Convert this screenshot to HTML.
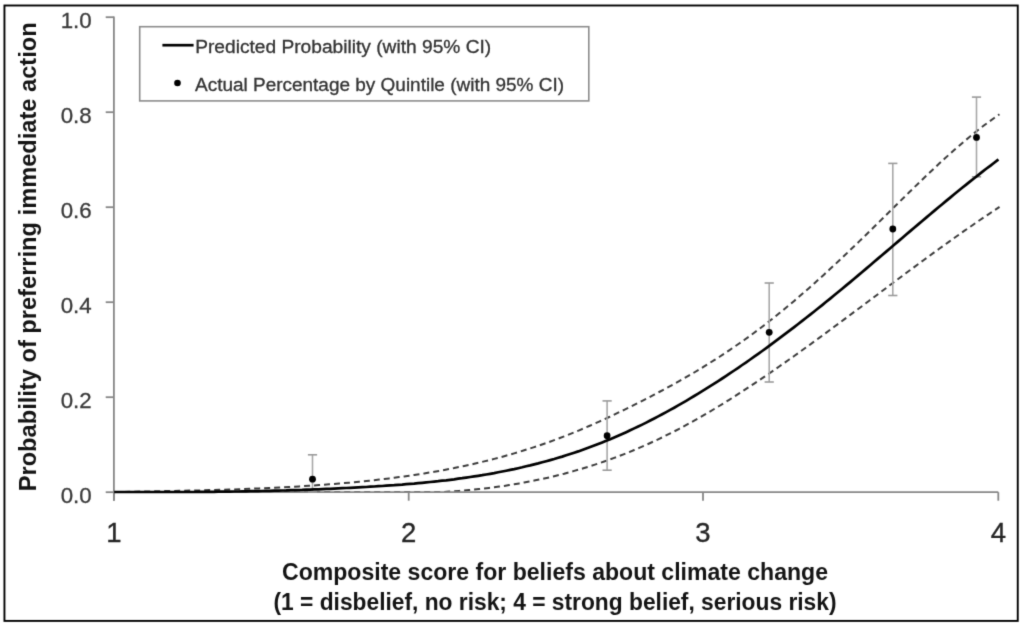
<!DOCTYPE html>
<html><head><meta charset="utf-8"><style>
html,body{margin:0;padding:0;background:#fff;width:1024px;height:627px;overflow:hidden}
svg{display:block;font-family:"Liberation Sans", sans-serif}
</style></head><body>
<svg width="1024" height="627" viewBox="0 0 1024 627">
<defs><filter id="b" x="0" y="0" width="1024" height="627" filterUnits="userSpaceOnUse" color-interpolation-filters="sRGB"><feConvolveMatrix order="3" kernelMatrix="1 6 1 6 36 6 1 6 1" divisor="64" edgeMode="duplicate"/></filter></defs>
<g filter="url(#b)">
<rect x="0" y="0" width="1024" height="627" fill="#fff"/>
<polyline points="114.2,492.0 119.2,492.0 124.2,491.9 129.2,491.8 134.2,491.7 139.2,491.6 144.2,491.5 149.2,491.4 154.2,491.3 159.2,491.2 164.2,491.1 169.2,491.0 174.2,490.9 179.2,490.8 184.2,490.7 189.2,490.6 194.2,490.5 199.2,490.4 204.2,490.3 209.2,490.1 214.2,490.0 219.2,489.8 224.2,489.7 229.2,489.5 234.2,489.4 239.2,489.2 244.2,489.0 249.2,488.8 254.2,488.6 259.2,488.4 264.2,488.2 269.2,488.0 274.2,487.7 279.2,487.5 284.2,487.2 289.2,487.0 294.2,486.7 299.2,486.4 304.2,486.1 309.2,485.7 314.2,485.4 319.2,485.1 324.2,484.7 329.2,484.3 334.2,483.9 339.2,483.5 344.2,483.1 349.2,482.7 354.2,482.2 359.2,481.7 364.2,481.2 369.2,480.7 374.2,480.2 379.2,479.6 384.2,479.0 389.2,478.4 394.2,477.8 399.2,477.1 404.2,476.5 409.2,475.8 414.2,475.0 419.2,474.3 424.2,473.5 429.2,472.6 434.2,471.8 439.2,470.9 444.2,470.0 449.2,469.0 454.2,468.1 459.2,467.0 464.2,466.0 469.2,464.9 474.2,463.8 479.2,462.6 484.2,461.4 489.2,460.2 494.2,458.9 499.2,457.6 504.2,456.2 509.2,454.8 514.2,453.4 519.2,451.9 524.2,450.3 529.2,448.7 534.2,447.1 539.2,445.4 544.2,443.7 549.2,442.0 554.2,440.1 559.2,438.3 564.2,436.4 569.2,434.4 574.2,432.4 579.2,430.3 584.2,428.2 589.2,426.0 594.2,423.8 599.2,421.6 604.2,419.3 609.2,417.0 614.2,414.6 619.2,412.2 624.2,409.8 629.2,407.4 634.2,404.9 639.2,402.4 644.2,399.8 649.2,397.3 654.2,394.7 659.2,392.0 664.2,389.4 669.2,386.7 674.2,383.9 679.2,381.1 684.2,378.3 689.2,375.4 694.2,372.5 699.2,369.5 704.2,366.4 709.2,363.3 714.2,360.2 719.2,357.0 724.2,353.7 729.2,350.3 734.2,346.9 739.2,343.5 744.2,340.0 749.2,336.4 754.2,332.7 759.2,329.0 764.2,325.2 769.2,321.3 774.2,317.3 779.2,313.3 784.2,309.2 789.2,305.1 794.2,300.9 799.2,296.6 804.2,292.3 809.2,287.9 814.2,283.4 819.2,278.9 824.2,274.4 829.2,269.8 834.2,265.2 839.2,260.5 844.2,255.8 849.2,251.0 854.2,246.2 859.2,241.4 864.2,236.6 869.2,231.7 874.2,226.8 879.2,221.9 884.2,216.9 889.2,212.0 894.2,207.0 899.2,202.1 904.2,197.2 909.2,192.3 914.2,187.4 919.2,182.6 924.2,177.7 929.2,173.0 934.2,168.3 939.2,163.6 944.2,159.0 949.2,154.5 954.2,150.0 959.2,145.7 964.2,141.4 969.2,137.2 974.2,133.1 979.2,129.2 984.2,125.3 989.2,121.6 994.2,118.0 999.2,114.5 999.5,114.3" fill="none" stroke="#3c3c3c" stroke-width="2" stroke-dasharray="6 4"/>
<polyline points="114.2,492.0 119.2,492.0 124.2,492.0 129.2,492.0 134.2,492.0 139.2,492.0 144.2,492.0 149.2,492.0 154.2,492.0 159.2,492.0 164.2,492.0 169.2,492.0 174.2,492.0 179.2,492.0 184.2,492.0 189.2,492.0 194.2,492.0 199.2,492.0 204.2,492.0 209.2,492.0 214.2,492.0 219.2,492.0 224.2,492.0 229.2,492.0 234.2,492.0 239.2,492.0 244.2,492.0 249.2,492.0 254.2,492.0 259.2,492.0 264.2,492.0 269.2,492.0 274.2,492.0 279.2,492.0 284.2,492.0 289.2,492.0 294.2,492.0 299.2,492.0 304.2,492.0 309.2,492.0 314.2,492.0 319.2,492.0 324.2,492.0 329.2,492.0 334.2,492.0 339.2,492.0 344.2,492.0 349.2,492.0 354.2,492.0 359.2,492.0 364.2,492.0 369.2,492.0 374.2,492.0 379.2,492.0 384.2,492.0 389.2,492.0 394.2,492.0 399.2,492.0 404.2,492.0 409.2,492.0 414.2,492.0 419.2,492.0 424.2,492.0 429.2,492.0 434.2,492.0 439.2,492.0 444.2,491.9 449.2,491.6 454.2,491.3 459.2,490.9 464.2,490.5 469.2,490.1 474.2,489.6 479.2,489.1 484.2,488.5 489.2,487.9 494.2,487.3 499.2,486.6 504.2,485.9 509.2,485.1 514.2,484.3 519.2,483.4 524.2,482.5 529.2,481.6 534.2,480.6 539.2,479.6 544.2,478.5 549.2,477.4 554.2,476.2 559.2,474.9 564.2,473.7 569.2,472.3 574.2,470.9 579.2,469.5 584.2,468.0 589.2,466.5 594.2,464.9 599.2,463.2 604.2,461.5 609.2,459.7 614.2,457.9 619.2,456.0 624.2,454.1 629.2,452.1 634.2,450.0 639.2,447.9 644.2,445.7 649.2,443.5 654.2,441.2 659.2,438.8 664.2,436.4 669.2,433.9 674.2,431.4 679.2,428.8 684.2,426.1 689.2,423.4 694.2,420.6 699.2,417.8 704.2,414.9 709.2,412.0 714.2,409.0 719.2,406.0 724.2,402.9 729.2,399.8 734.2,396.6 739.2,393.4 744.2,390.2 749.2,386.9 754.2,383.6 759.2,380.3 764.2,376.9 769.2,373.5 774.2,370.0 779.2,366.5 784.2,363.0 789.2,359.5 794.2,356.0 799.2,352.4 804.2,348.8 809.2,345.2 814.2,341.5 819.2,337.9 824.2,334.2 829.2,330.5 834.2,326.8 839.2,323.1 844.2,319.4 849.2,315.7 854.2,311.9 859.2,308.2 864.2,304.5 869.2,300.7 874.2,297.0 879.2,293.2 884.2,289.5 889.2,285.7 894.2,282.0 899.2,278.3 904.2,274.5 909.2,270.8 914.2,267.1 919.2,263.4 924.2,259.7 929.2,256.1 934.2,252.4 939.2,248.8 944.2,245.2 949.2,241.6 954.2,238.0 959.2,234.5 964.2,230.9 969.2,227.5 974.2,224.0 979.2,220.5 984.2,217.1 989.2,213.8 994.2,210.4 999.2,207.1 999.5,206.9" fill="none" stroke="#3c3c3c" stroke-width="2" stroke-dasharray="6 4"/>
<line x1="113.9" y1="16.4" x2="113.9" y2="500.7" stroke="#878787" stroke-width="1.8"/>
<line x1="113.9" y1="492.2" x2="998.3" y2="492.2" stroke="#878787" stroke-width="1.8"/>
<line x1="105.7" y1="17.2" x2="113.9" y2="17.2" stroke="#878787" stroke-width="1.8"/>
<line x1="105.7" y1="112.2" x2="113.9" y2="112.2" stroke="#878787" stroke-width="1.8"/>
<line x1="105.7" y1="207.2" x2="113.9" y2="207.2" stroke="#878787" stroke-width="1.8"/>
<line x1="105.7" y1="302.2" x2="113.9" y2="302.2" stroke="#878787" stroke-width="1.8"/>
<line x1="105.7" y1="397.2" x2="113.9" y2="397.2" stroke="#878787" stroke-width="1.8"/>
<line x1="105.7" y1="492.2" x2="113.9" y2="492.2" stroke="#878787" stroke-width="1.8"/>
<line x1="113.9" y1="492.2" x2="113.9" y2="500.7" stroke="#878787" stroke-width="1.8"/>
<line x1="408.7" y1="492.2" x2="408.7" y2="500.7" stroke="#878787" stroke-width="1.8"/>
<line x1="703.0" y1="492.2" x2="703.0" y2="500.7" stroke="#878787" stroke-width="1.8"/>
<line x1="998.3" y1="492.2" x2="998.3" y2="500.7" stroke="#878787" stroke-width="1.8"/>
<line x1="312.5" y1="454.8" x2="312.5" y2="492.0" stroke="#a8a8a8" stroke-width="1.6"/>
<line x1="307.9" y1="454.8" x2="317.1" y2="454.8" stroke="#9a9a9a" stroke-width="1.6"/>
<line x1="307.9" y1="492.0" x2="317.1" y2="492.0" stroke="#9a9a9a" stroke-width="1.6"/>
<line x1="607.1" y1="400.9" x2="607.1" y2="470.2" stroke="#a8a8a8" stroke-width="1.6"/>
<line x1="602.5" y1="400.9" x2="611.7" y2="400.9" stroke="#9a9a9a" stroke-width="1.6"/>
<line x1="602.5" y1="470.2" x2="611.7" y2="470.2" stroke="#9a9a9a" stroke-width="1.6"/>
<line x1="769.2" y1="283.0" x2="769.2" y2="382.0" stroke="#a8a8a8" stroke-width="1.6"/>
<line x1="764.6" y1="283.0" x2="773.8000000000001" y2="283.0" stroke="#9a9a9a" stroke-width="1.6"/>
<line x1="764.6" y1="382.0" x2="773.8000000000001" y2="382.0" stroke="#9a9a9a" stroke-width="1.6"/>
<line x1="892.8" y1="163.4" x2="892.8" y2="295.5" stroke="#a8a8a8" stroke-width="1.6"/>
<line x1="888.1999999999999" y1="163.4" x2="897.4" y2="163.4" stroke="#9a9a9a" stroke-width="1.6"/>
<line x1="888.1999999999999" y1="295.5" x2="897.4" y2="295.5" stroke="#9a9a9a" stroke-width="1.6"/>
<line x1="976.5" y1="97.1" x2="976.5" y2="176.8" stroke="#a8a8a8" stroke-width="1.6"/>
<line x1="971.9" y1="97.1" x2="981.1" y2="97.1" stroke="#9a9a9a" stroke-width="1.6"/>
<line x1="971.9" y1="176.8" x2="981.1" y2="176.8" stroke="#9a9a9a" stroke-width="1.6"/>
<polyline points="114.2,492.0 118.2,492.0 122.2,492.0 126.2,492.0 130.2,492.0 134.2,492.0 138.2,492.0 142.2,492.0 146.2,492.0 150.2,492.0 154.2,492.0 158.2,492.0 162.2,492.0 166.2,492.0 170.2,492.0 174.2,492.0 178.2,492.0 182.2,492.0 186.2,492.0 190.2,492.0 194.2,492.0 198.2,491.9 202.2,491.9 206.2,491.9 210.2,491.8 214.2,491.8 218.2,491.7 222.2,491.7 226.2,491.6 230.2,491.6 234.2,491.5 238.2,491.5 242.2,491.4 246.2,491.3 250.2,491.2 254.2,491.2 258.2,491.1 262.2,491.0 266.2,490.9 270.2,490.8 274.2,490.7 278.2,490.6 282.2,490.5 286.2,490.4 290.2,490.2 294.2,490.1 298.2,490.0 302.2,489.9 306.2,489.7 310.2,489.6 314.2,489.4 318.2,489.3 322.2,489.1 326.2,488.9 330.2,488.8 334.2,488.6 338.2,488.4 342.2,488.2 346.2,488.0 350.2,487.8 354.2,487.6 358.2,487.4 362.2,487.2 366.2,487.0 370.2,486.7 374.2,486.5 378.2,486.2 382.2,486.0 386.2,485.7 390.2,485.4 394.2,485.2 398.2,484.9 402.2,484.6 406.2,484.2 410.2,483.9 414.2,483.6 418.2,483.2 422.2,482.8 426.2,482.4 430.2,482.0 434.2,481.6 438.2,481.2 442.2,480.7 446.2,480.3 450.2,479.8 454.2,479.3 458.2,478.7 462.2,478.2 466.2,477.6 470.2,477.0 474.2,476.4 478.2,475.8 482.2,475.2 486.2,474.5 490.2,473.8 494.2,473.1 498.2,472.3 502.2,471.5 506.2,470.7 510.2,469.9 514.2,469.1 518.2,468.2 522.2,467.3 526.2,466.3 530.2,465.4 534.2,464.4 538.2,463.4 542.2,462.3 546.2,461.2 550.2,460.1 554.2,459.0 558.2,457.8 562.2,456.6 566.2,455.3 570.2,454.0 574.2,452.7 578.2,451.4 582.2,450.0 586.2,448.5 590.2,447.1 594.2,445.6 598.2,444.0 602.2,442.4 606.2,440.8 610.2,439.2 614.2,437.5 618.2,435.7 622.2,434.0 626.2,432.2 630.2,430.3 634.2,428.4 638.2,426.5 642.2,424.6 646.2,422.6 650.2,420.5 654.2,418.5 658.2,416.4 662.2,414.3 666.2,412.1 670.2,409.9 674.2,407.7 678.2,405.4 682.2,403.1 686.2,400.8 690.2,398.4 694.2,396.0 698.2,393.6 702.2,391.2 706.2,388.7 710.2,386.2 714.2,383.6 718.2,381.1 722.2,378.5 726.2,375.8 730.2,373.2 734.2,370.5 738.2,367.8 742.2,365.0 746.2,362.3 750.2,359.5 754.2,356.7 758.2,353.8 762.2,351.0 766.2,348.1 770.2,345.1 774.2,342.2 778.2,339.2 782.2,336.2 786.2,333.2 790.2,330.2 794.2,327.1 798.2,324.0 802.2,320.9 806.2,317.8 810.2,314.6 814.2,311.5 818.2,308.3 822.2,305.1 826.2,301.8 830.2,298.6 834.2,295.3 838.2,292.0 842.2,288.7 846.2,285.4 850.2,282.1 854.2,278.7 858.2,275.4 862.2,272.0 866.2,268.6 870.2,265.2 874.2,261.8 878.2,258.4 882.2,255.0 886.2,251.6 890.2,248.2 894.2,244.8 898.2,241.4 902.2,238.0 906.2,234.5 910.2,231.1 914.2,227.7 918.2,224.4 922.2,221.0 926.2,217.6 930.2,214.2 934.2,210.9 938.2,207.5 942.2,204.2 946.2,200.9 950.2,197.6 954.2,194.3 958.2,191.0 962.2,187.8 966.2,184.6 970.2,181.4 974.2,178.2 978.2,175.1 982.2,171.9 986.2,168.8 990.2,165.8 994.2,162.7 998.2,159.7 998.5,159.5" fill="none" stroke="#000" stroke-width="2.7" stroke-linejoin="round"/>
<circle cx="312.5" cy="479.2" r="3.4" fill="#000"/>
<circle cx="607.1" cy="435.7" r="3.4" fill="#000"/>
<circle cx="769.2" cy="332.3" r="3.4" fill="#000"/>
<circle cx="892.8" cy="229.0" r="3.4" fill="#000"/>
<circle cx="976.5" cy="137.4" r="3.4" fill="#000"/>
<rect x="139.7" y="26.7" width="449.1" height="74.2" fill="#fff" stroke="#8c8c8c" stroke-width="1.6"/>
<line x1="162.4" y1="45.2" x2="193.6" y2="45.2" stroke="#000" stroke-width="2.7"/>
<circle cx="177.5" cy="83.0" r="3.3" fill="#000"/>
<rect x="4.45" y="5.5" width="1013.3" height="615.4" fill="none" stroke="#000" stroke-width="1.9"/>
<text x="91.7" y="27.8" text-anchor="end" font-size="22.3" fill="#3a3a3a" stroke="#3a3a3a" stroke-width="0.3">1.0</text>
<text x="91.7" y="122.8" text-anchor="end" font-size="22.3" fill="#3a3a3a" stroke="#3a3a3a" stroke-width="0.3">0.8</text>
<text x="91.7" y="217.8" text-anchor="end" font-size="22.3" fill="#3a3a3a" stroke="#3a3a3a" stroke-width="0.3">0.6</text>
<text x="91.7" y="312.8" text-anchor="end" font-size="22.3" fill="#3a3a3a" stroke="#3a3a3a" stroke-width="0.3">0.4</text>
<text x="91.7" y="407.8" text-anchor="end" font-size="22.3" fill="#3a3a3a" stroke="#3a3a3a" stroke-width="0.3">0.2</text>
<text x="91.7" y="502.8" text-anchor="end" font-size="22.3" fill="#3a3a3a" stroke="#3a3a3a" stroke-width="0.3">0.0</text>
<text x="113.9" y="541.6" text-anchor="middle" font-size="27.5" fill="#262626" stroke="#262626" stroke-width="0.35">1</text>
<text x="408.7" y="541.6" text-anchor="middle" font-size="27.5" fill="#262626" stroke="#262626" stroke-width="0.35">2</text>
<text x="703.0" y="541.6" text-anchor="middle" font-size="27.5" fill="#262626" stroke="#262626" stroke-width="0.35">3</text>
<text x="998.3" y="541.6" text-anchor="middle" font-size="27.5" fill="#262626" stroke="#262626" stroke-width="0.35">4</text>
<text x="195.2" y="53.3" font-size="17.6" fill="#333" stroke="#333" stroke-width="0.3" textLength="296" lengthAdjust="spacingAndGlyphs">Predicted Probability (with 95% CI)</text>
<text x="195" y="90.7" font-size="17.6" fill="#333" stroke="#333" stroke-width="0.3" textLength="369" lengthAdjust="spacingAndGlyphs">Actual Percentage by Quintile (with 95% CI)</text>
<text x="282" y="579.8" font-size="23.3" font-weight="bold" fill="#141414" textLength="546" lengthAdjust="spacingAndGlyphs">Composite score for beliefs about climate change</text>
<text x="273.5" y="609.7" font-size="23.3" font-weight="bold" fill="#141414" textLength="563" lengthAdjust="spacingAndGlyphs">(1 = disbelief, no risk; 4 = strong belief, serious risk)</text>
<text transform="translate(36.3,491.3) rotate(-90)" x="0" y="0" font-size="23.3" font-weight="bold" fill="#141414" textLength="469" lengthAdjust="spacingAndGlyphs">Probability of preferring immediate action</text>
</g>
</svg>
</body></html>
